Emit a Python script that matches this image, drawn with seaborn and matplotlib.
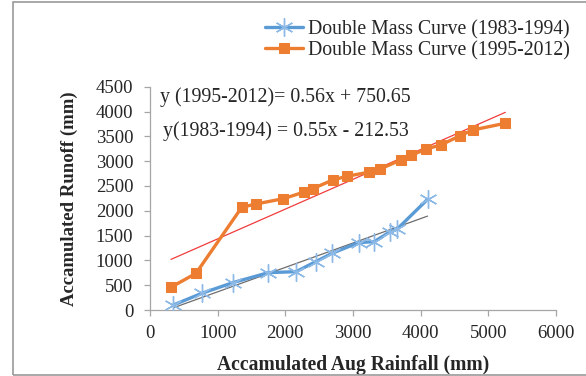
import numpy as np
import pandas as pd
import matplotlib
matplotlib.use("Agg")
import matplotlib.pyplot as plt
from matplotlib.patches import Rectangle
import seaborn as sns

# Double mass curve values
rain_8394 = [345, 764, 1223, 1750, 2160, 2450, 2690, 3082, 3314, 3550, 3649, 4102]
runoff_8394 = [101, 336, 551, 753, 773, 975, 1143, 1358, 1378, 1579, 1626, 2231]

rain_9512 = [310, 680, 1356, 1568, 1972, 2283, 2406, 2702, 2909, 3230, 3392,
             3708, 3861, 4083, 4300, 4576, 4773, 5251]
runoff_9512 = [458, 740, 2070, 2137, 2244, 2379, 2446, 2621, 2695, 2776, 2837,
               3024, 3118, 3246, 3327, 3508, 3629, 3763]

label_8394 = "Double Mass Curve (1983-1994)"
label_9512 = "Double Mass Curve (1995-2012)"
eq_9512 = "y (1995-2012)= 0.56x + 750.65"
eq_8394 = "y(1983-1994) = 0.55x - 212.53"

x_ticks = [0, 1000, 2000, 3000, 4000, 5000, 6000]
y_ticks = list(range(0, 5000, 500))

BLUE = "#5B9BD5"
BLUE_MARK = "#8DB9E6"
ORANGE = "#ED7D31"

sns.set_theme(style="white")
plt.rcParams["font.family"] = ["Liberation Serif", "DejaVu Serif"]

df_a = pd.DataFrame({"rain": rain_8394, "runoff": runoff_8394})
df_b = pd.DataFrame({"rain": rain_9512, "runoff": runoff_9512})

fig = plt.figure(figsize=(5.86, 3.76), dpi=100)
ax = fig.add_axes([0.256, 0.1755, 0.6928, 0.5939])

# chart frame (left, top and bottom edges are visible)
fig.patches.append(Rectangle((13 / 586, 1.5 / 376), 1.0, 372.5 / 376, transform=fig.transFigure,
                             fill=False, edgecolor="#9a9a9a", linewidth=1.2, zorder=0))

# trendlines
sns.regplot(data=df_b, x="rain", y="runoff", scatter=False, ci=None, ax=ax,
            line_kws={"color": "#F03C3C", "linewidth": 0.9, "zorder": 1})
sns.regplot(data=df_a, x="rain", y="runoff", scatter=False, ci=None, ax=ax,
            line_kws={"color": "#6d6d6d", "linewidth": 0.9, "zorder": 1})

# curves
sns.lineplot(data=df_a, x="rain", y="runoff", sort=False, ax=ax, color=BLUE,
             linewidth=2.4, marker=(6, 2, 0), markersize=13, markeredgecolor=BLUE_MARK,
             markeredgewidth=1.0, label=label_8394, zorder=3)
sns.lineplot(data=df_b, x="rain", y="runoff", sort=False, ax=ax, color=ORANGE,
             linewidth=2.4, marker="s", markersize=7, markeredgecolor=ORANGE,
             label=label_9512, zorder=3)

ax.set_xlim(0, 6000)
ax.set_ylim(0, 4500)
ax.set_xticks(x_ticks)
ax.set_yticks(y_ticks)
ax.tick_params(axis="both", labelsize=13.5, length=4, width=0.9, color="#a6a6a6",
               direction="out", bottom=True, left=True)
ax.tick_params(axis="y", pad=8)
ax.tick_params(axis="x", pad=7)

for side in ["top", "right"]:
    ax.spines[side].set_visible(False)
for side in ["left", "bottom"]:
    ax.spines[side].set_color("#a6a6a6")
    ax.spines[side].set_linewidth(0.9)

ax.set_xlabel("Accamulated Aug Rainfall (mm)", fontsize=14.1, fontweight="bold", labelpad=9)
ax.set_ylabel("Accamulated Runoff (mm)", fontsize=13.5, fontweight="bold", labelpad=13)

ax.text(0.025, 0.954, eq_9512, transform=ax.transAxes, fontsize=14.3, va="center", ha="left")
ax.text(0.032, 0.80, eq_8394, transform=ax.transAxes, fontsize=14.3, va="center", ha="left")

ax.get_legend().remove()
handles, labels = ax.get_legend_handles_labels()
fig.legend(handles, labels, loc="upper right", bbox_to_anchor=(0.972, 0.947), frameon=False,
           fontsize=14.2, borderpad=0, handlelength=1.93, handletextpad=0.25, labelspacing=0.09,
           borderaxespad=0)

fig.savefig("out.png", dpi=100)
